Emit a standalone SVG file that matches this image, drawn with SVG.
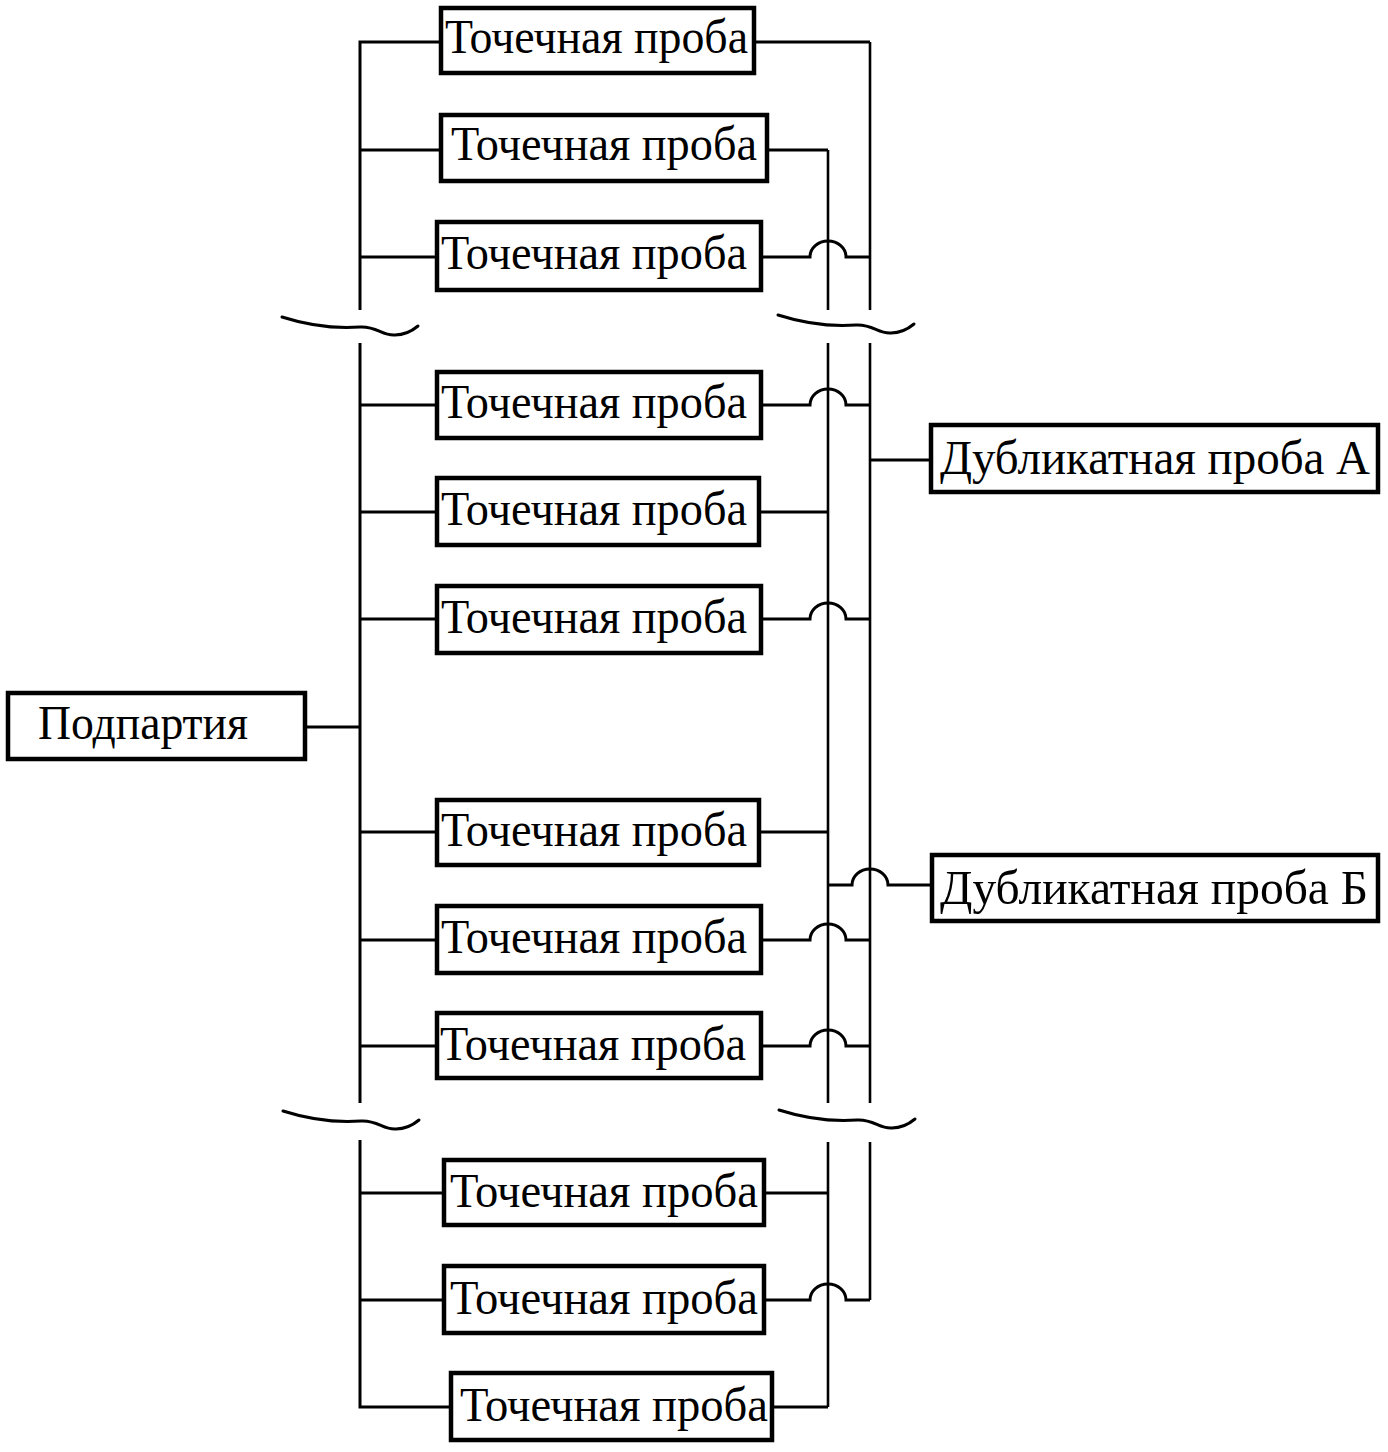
<svg xmlns="http://www.w3.org/2000/svg" xmlns:xlink="http://www.w3.org/1999/xlink" width="1388" height="1452" viewBox="0 0 1388 1452">
<style>
.box{fill:#fff;stroke:#000;stroke-width:4.5}
.t{font-family:"Liberation Serif","Times New Roman",serif;font-size:49px;fill:#000}
.ln{fill:none;stroke:#000;stroke-width:3;stroke-linejoin:miter}
.v{fill:none;stroke:#000;stroke-width:2.6}
.wave{fill:none;stroke:#000;stroke-width:3;stroke-linecap:round}
</style>
<defs>
<path id="wv" d="M0,0 C25,8 50,12 78,10 C95,9 100,19 113,18 C122,18 130,14 136,9"/>
</defs>
<rect width="1388" height="1452" fill="#fff"/>
<g id="connectors">
<path class="ln" d="M441,42 H360 V310"/>
<path class="ln" d="M360,343 V1103"/>
<path class="ln" d="M360,1140 V1407 H451"/>
<path class="ln" d="M360,150 H441 M360,257 H437 M360,405 H437 M360,512 H437 M360,619 H437 M360,832 H437 M360,940 H437 M360,1046 H437 M360,1193 H444 M360,1300 H444"/>
<path class="ln" d="M305,727 H360"/>
<path class="v" d="M828,150 V310 M828,343 V1103 M828,1142 V1407"/>
<path class="v" d="M870,42 V310 M870,343 V1103 M870,1142 V1300"/>
<path class="ln" d="M754,42 H870"/>
<path class="ln" d="M767,150 H828"/>
<path class="ln" d="M761,257 H810 A18,16 0 0 1 846,257 H870"/>
<path class="ln" d="M761,405 H810 A18,16 0 0 1 846,405 H870"/>
<path class="ln" d="M759,512 H828"/>
<path class="ln" d="M761,619 H810 A18,16 0 0 1 846,619 H870"/>
<path class="ln" d="M759,832 H828"/>
<path class="ln" d="M761,940 H810 A18,16 0 0 1 846,940 H870"/>
<path class="ln" d="M761,1046 H810 A18,16 0 0 1 846,1046 H870"/>
<path class="ln" d="M764,1193 H828"/>
<path class="ln" d="M764,1300 H810 A18,16 0 0 1 846,1300 H870"/>
<path class="ln" d="M772,1407 H828"/>
<path class="ln" d="M870,460 H931"/>
<path class="ln" d="M828,885 H852 A18,16 0 0 1 888,885 H932"/>
<use xlink:href="#wv" class="wave" transform="translate(282,317)"/>
<use xlink:href="#wv" class="wave" transform="translate(778,315)"/>
<use xlink:href="#wv" class="wave" transform="translate(283,1111)"/>
<use xlink:href="#wv" class="wave" transform="translate(779,1110)"/>
</g>
<g id="n1"><rect class="box" x="441" y="8" width="313" height="65"/><text class="t" x="445" y="53" textLength="303" lengthAdjust="spacingAndGlyphs">Точечная проба</text></g>
<g id="n2"><rect class="box" x="441" y="115" width="326" height="66"/><text class="t" x="451" y="160" textLength="306" lengthAdjust="spacingAndGlyphs">Точечная проба</text></g>
<g id="n3"><rect class="box" x="437" y="222" width="324" height="68"/><text class="t" x="441" y="269" textLength="306" lengthAdjust="spacingAndGlyphs">Точечная проба</text></g>
<g id="n4"><rect class="box" x="437" y="372" width="324" height="66"/><text class="t" x="441" y="418" textLength="306" lengthAdjust="spacingAndGlyphs">Точечная проба</text></g>
<g id="n5"><rect class="box" x="437" y="478" width="322" height="67"/><text class="t" x="441" y="525" textLength="306" lengthAdjust="spacingAndGlyphs">Точечная проба</text></g>
<g id="n6"><rect class="box" x="437" y="586" width="324" height="67"/><text class="t" x="441" y="633" textLength="306" lengthAdjust="spacingAndGlyphs">Точечная проба</text></g>
<g id="n7"><rect class="box" x="437" y="800" width="322" height="65"/><text class="t" x="441" y="846" textLength="306" lengthAdjust="spacingAndGlyphs">Точечная проба</text></g>
<g id="n8"><rect class="box" x="437" y="906" width="324" height="67"/><text class="t" x="441" y="953" textLength="306" lengthAdjust="spacingAndGlyphs">Точечная проба</text></g>
<g id="n9"><rect class="box" x="437" y="1013" width="324" height="65"/><text class="t" x="440" y="1060" textLength="306" lengthAdjust="spacingAndGlyphs">Точечная проба</text></g>
<g id="n10"><rect class="box" x="444" y="1160" width="320" height="65"/><text class="t" x="450" y="1207" textLength="308" lengthAdjust="spacingAndGlyphs">Точечная проба</text></g>
<g id="n11"><rect class="box" x="444" y="1266" width="320" height="67"/><text class="t" x="450" y="1314" textLength="308" lengthAdjust="spacingAndGlyphs">Точечная проба</text></g>
<g id="n12"><rect class="box" x="451" y="1373" width="321" height="67"/><text class="t" x="460" y="1421" textLength="308" lengthAdjust="spacingAndGlyphs">Точечная проба</text></g>
<g id="podpartiya"><rect class="box" x="8" y="693" width="297" height="66"/><text class="t" x="38" y="739" textLength="210" lengthAdjust="spacingAndGlyphs">Подпартия</text></g>
<g id="dupA"><rect class="box" x="931" y="425" width="447" height="67"/><text class="t" x="940" y="474" textLength="430" lengthAdjust="spacingAndGlyphs">Дубликатная проба А</text></g>
<g id="dupB"><rect class="box" x="932" y="855" width="446" height="66"/><text class="t" x="940" y="904" textLength="428" lengthAdjust="spacingAndGlyphs">Дубликатная проба Б</text></g>
</svg>
